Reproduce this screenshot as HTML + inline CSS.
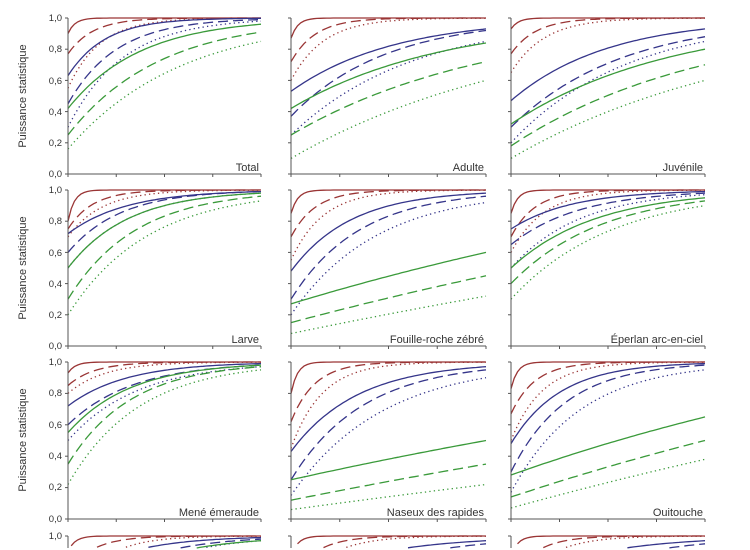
<!DOCTYPE html>
<html><head><meta charset="utf-8"><style>
html,body{margin:0;padding:0;background:#fff;width:750px;height:550px;overflow:hidden}
svg{display:block}
text{font-family:"Liberation Sans",Arial,sans-serif;fill:#333}
</style></head><body>
<svg id="s" width="750" height="550" viewBox="0 0 750 550" xmlns="http://www.w3.org/2000/svg">
<g id="g"></g>
<text transform="translate(26,96) rotate(-90)" font-size="11" text-anchor="middle">Puissance statistique</text>
<text transform="translate(26,268) rotate(-90)" font-size="11" text-anchor="middle">Puissance statistique</text>
<text transform="translate(26,440) rotate(-90)" font-size="11" text-anchor="middle">Puissance statistique</text>
<text x="62" y="21" font-size="9.5" text-anchor="end">1,0</text>
<text x="62" y="52" font-size="9.5" text-anchor="end">0,8</text>
<text x="62" y="84" font-size="9.5" text-anchor="end">0,6</text>
<text x="62" y="115" font-size="9.5" text-anchor="end">0,4</text>
<text x="62" y="146" font-size="9.5" text-anchor="end">0,2</text>
<text x="62" y="177" font-size="9.5" text-anchor="end">0,0</text>
<text x="62" y="193" font-size="9.5" text-anchor="end">1,0</text>
<text x="62" y="224" font-size="9.5" text-anchor="end">0,8</text>
<text x="62" y="256" font-size="9.5" text-anchor="end">0,6</text>
<text x="62" y="287" font-size="9.5" text-anchor="end">0,4</text>
<text x="62" y="318" font-size="9.5" text-anchor="end">0,2</text>
<text x="62" y="349" font-size="9.5" text-anchor="end">0,0</text>
<text x="62" y="365" font-size="9.5" text-anchor="end">1,0</text>
<text x="62" y="396" font-size="9.5" text-anchor="end">0,8</text>
<text x="62" y="428" font-size="9.5" text-anchor="end">0,6</text>
<text x="62" y="459" font-size="9.5" text-anchor="end">0,4</text>
<text x="62" y="490" font-size="9.5" text-anchor="end">0,2</text>
<text x="62" y="522" font-size="9.5" text-anchor="end">0,0</text>
<text x="62" y="539" font-size="9.5" text-anchor="end">1,0</text>
</svg>
<script>
var g=document.getElementById('g');
var cols=[[68,261],[291,486],[511,705]];
var rows=[[18,174],[190,346],[362,519],[536,692]];
var names=[["Total","Adulte","Juvénile"],["Larve","Fouille-roche zébré","Éperlan arc-en-ciel"],["Mené émeraude","Naseux des rapides","Ouitouche"],["","",""]];
var R="#9a3535",B="#35358a",G="#3a9a3a";
var data=[
[[[.9,.9999],[.77,.9999],[.55,.999],[.63,.998],[.45,.99],[.3,.98],[.42,.96],[.25,.91],[.16,.85]],
 [[.87,.9999],[.72,.9999],[.6,.999],[.53,.93],[.37,.92],[.25,.85],[.42,.84],[.25,.72],[.1,.6]],
 [[.93,.9999],[.77,.9999],[.65,.999],[.47,.93],[.3,.88],[.2,.85],[.32,.8],[.18,.7],[.1,.6]]],
[[[.8,.9999],[.75,.9999],[.7,.999],[.72,.99],[.6,.99],[.5,.98],[.5,.98],[.3,.96],[.2,.93]],
 [[.85,.9999],[.7,.9999],[.55,.999],[.48,.98],[.3,.96],[.2,.92],[.27,.6,1],[.15,.45,1],[.08,.32,1]],
 [[.85,.9999],[.7,.9999],[.6,.999],[.75,.99],[.65,.98],[.5,.97],[.5,.95],[.4,.93],[.3,.9]]],
[[[.93,.9999],[.85,.9999],[.8,.999],[.72,.99],[.6,.98],[.5,.97],[.55,.98],[.35,.97],[.22,.95]],
 [[.8,.9999],[.62,.9999],[.45,.999],[.43,.97],[.25,.95],[.15,.9],[.25,.5,1],[.12,.35,1],[.06,.22,1]],
 [[.83,.9999],[.67,.9999],[.5,.999],[.48,.99],[.3,.98],[.17,.95],[.28,.65,1],[.14,.5,1],[.07,.38,1]]],
[[[.9,.9999],[.77,.9999],[.55,.999],[.7,.99],[.5,.98],[.3,.97],[.5,.97],[.3,.92],[.2,.85]],
 [[.87,.9999],[.72,.9999],[.6,.999],[.7,.97],[.5,.95],[.3,.9],[.5,.9],[.3,.8],[.2,.7]],
 [[.87,.9999],[.72,.9999],[.6,.999],[.7,.97],[.5,.95],[.3,.9],[.5,.9],[.3,.8],[.2,.7]]]
];
var colors=[R,R,R,B,B,B,G,G,G];
var dash=["", "10 5", "1.3 3.2"];
var LIM=548;
function el(t,a){var e=document.createElementNS("http://www.w3.org/2000/svg",t);for(var k in a)e.setAttribute(k,a[k]);g.appendChild(e);return e;}
for(var r=0;r<4;r++)for(var c=0;c<3;c++){
 var x0=cols[c][0],x1=cols[c][1],yt=rows[r][0],yb=rows[r][1];
 var h=yb-yt,w=x1-x0;
 for(var i=0;i<9;i++){
  var d=data[r][c][i],p0=d[0],pe=d[1],lin=d[2];
  var k=-Math.log((1-pe)/(1-p0));
  if(lin)k*=0.5;
  var segs=[],cur=[];
  for(var j=0;j<=60;j++){var t=j/60,p;
   if(lin){p=1-(1-p0)*Math.exp(-k*t);var pEnd=1-(1-p0)*Math.exp(-k);p=p0+(p-p0)*(pe-p0)/(pEnd-p0);}
   else p=1-(1-p0)*Math.exp(-k*t*(1+ (i==0?3:0)));
   var y=yb-p*h;
   if(y<=LIM){cur.push((x0+t*w).toFixed(1)+","+y.toFixed(1));}
   else {if(cur.length>1)segs.push(cur);cur=[];}
  }
  if(cur.length>1)segs.push(cur);
  segs.forEach(function(s){el("polyline",{points:s.join(" "),fill:"none",stroke:colors[i],"stroke-width":1.3,"stroke-dasharray":dash[i%3]});});
 }
 el("line",{x1:x0,y1:yt,x2:x0,y2:Math.min(yb,LIM),stroke:"#555","stroke-width":1});
 if(yb<550){
 el("line",{x1:x0,y1:yb,x2:x1,y2:yb,stroke:"#555","stroke-width":1});
 for(var q=0;q<=4;q++){var xx=x0+q*w/4;el("line",{x1:xx,y1:yb,x2:xx,y2:yb+3,stroke:"#555"});}
 }
 for(var q=0;q<=5;q++){var yy=yb-q*h/5;if(yy<LIM)el("line",{x1:x0-3,y1:yy,x2:x0,y2:yy,stroke:"#555"});}
 if(names[r][c]){var tx=el("text",{x:x1-2,y:yb-3,"font-size":11,"text-anchor":"end"});tx.textContent=names[r][c];}
}
</script>
</body></html>
